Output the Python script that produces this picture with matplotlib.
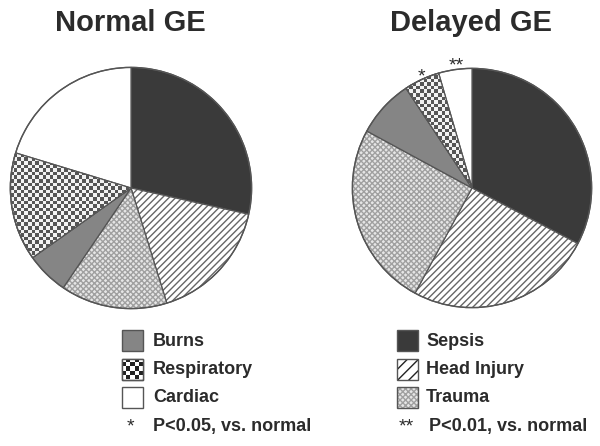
import matplotlib
matplotlib.use("Agg")
import matplotlib.pyplot as plt
import matplotlib.patches as mpatches
import numpy as np

plt.rcParams["font.family"] = ["Liberation Sans", "DejaVu Sans"]
plt.rcParams["hatch.linewidth"] = 1.0

# data: percent of patients per diagnosis, clockwise from 12 o'clock
categories = ["Sepsis", "Head Injury", "Trauma", "Burns", "Respiratory", "Cardiac"]
normal_ge = [28.5, 16.7, 14.3, 5.7, 14.5, 20.3]
delayed_ge = [32.7, 25.2, 25.0, 7.8, 4.8, 4.5]
titles = ["Normal GE", "Delayed GE"]
delayed_marks = {"Respiratory": "*", "Cardiac": "**"}

legend_left = ["Burns", "Respiratory", "Cardiac"]
legend_right = ["Sepsis", "Head Injury", "Trauma"]
note_left = ("*", "P<0.05, vs. normal")
note_right = ("**", "P<0.01, vs. normal")

TXT = "#2b2b2b"
EDGE = "#555555"

style = {
    "Sepsis": dict(facecolor="#3a3a3a", hatch=None, hcolor=None),
    "Head Injury": dict(facecolor="white", hatch="/////", hcolor="#666666"),
    "Trauma": dict(facecolor="#e6e6e6", hatch="xxxxxx", hcolor="#a0a0a0"),
    "Burns": dict(facecolor="#858585", hatch=None, hcolor=None),
    "Respiratory": dict(facecolor="white", hatch=None, hcolor=None),
    "Cardiac": dict(facecolor="white", hatch=None, hcolor=None),
}


def checker(ax, clip, extent, cell, dark="#555555", light="#f2f2f2"):
    x0, x1, y0, y1 = extent
    nx = max(2, int(round(abs(x1 - x0) / cell)))
    ny = max(2, int(round(abs(y1 - y0) / cell)))
    grid = (np.add.outer(np.arange(ny), np.arange(nx)) % 2).astype(float)
    cmap = matplotlib.colors.ListedColormap([light, dark])
    im = ax.imshow(grid, cmap=cmap, extent=extent, interpolation="nearest",
                   origin="lower", zorder=2, aspect="auto")
    im.set_clip_path(clip)
    return im


def draw_pie(rect, values, marks=None):
    ax = fig.add_axes(rect)
    wedges, _ = ax.pie(values, startangle=90, counterclock=False,
                       wedgeprops=dict(edgecolor=EDGE, linewidth=0.9))
    for w, cat in zip(wedges, categories):
        s = style[cat]
        w.set_facecolor(s["facecolor"])
        if s["hatch"]:
            w.set_hatch(s["hatch"])
            w._hatch_color = matplotlib.colors.to_rgba(s["hcolor"])
        if cat == "Respiratory":
            checker(ax, w, (-1.0, 1.0, -1.0, 1.0), 0.03)
            # redraw edge above the texture
            ax.add_patch(mpatches.Wedge(w.center, w.r, w.theta1, w.theta2,
                                        facecolor="none", edgecolor=EDGE,
                                        linewidth=0.9, zorder=3))
    ax.add_patch(mpatches.Circle((0, 0), 1, facecolor="none",
                                 edgecolor=EDGE, linewidth=1.0, zorder=4))
    if marks:
        for w, cat in zip(wedges, categories):
            if cat in marks:
                mid = np.deg2rad((w.theta1 + w.theta2) / 2)
                ax.text(1.06 * np.cos(mid) + 0.02, 1.07 * np.sin(mid) - 0.04, marks[cat],
                        ha="center", va="center", fontsize=14, color=TXT)
    ax.set_xlim(-1.02, 1.02)
    ax.set_ylim(-1.02, 1.02)
    ax.axis("off")
    return ax


fig = plt.figure(figsize=(6.0, 4.46), dpi=100)

W, H = 600.0, 446.0
r1, c1 = 123.0, (131.0, 188.0)
r2, c2 = 122.0, (472.0, 188.0)
draw_pie([(c1[0] - r1) / W, (H - c1[1] - r1) / H, 2 * r1 / W, 2 * r1 / H], normal_ge)
draw_pie([(c2[0] - r2) / W, (H - c2[1] - r2) / H, 2 * r2 / W, 2 * r2 / H],
         delayed_ge, delayed_marks)

fig.text(130 / W, 1 - 23 / H, titles[0], ha="center", va="center",
         fontsize=21, fontweight="bold", color=TXT)
fig.text(471 / W, 1 - 23 / H, titles[1], ha="center", va="center",
         fontsize=21, fontweight="bold", color=TXT)

# legend drawn in a pixel-coordinate overlay
lax = fig.add_axes([0, 0, 1, 1])
lax.set_xlim(0, W)
lax.set_ylim(H, 0)
lax.axis("off")

rows_y = [340, 369, 397, 426]
sq = 21


def swatch(x, y, cat):
    s = style[cat]
    r = mpatches.Rectangle((x, y - sq / 2), sq, sq, facecolor=s["facecolor"],
                           edgecolor=EDGE, linewidth=1.0, zorder=2)
    if cat == "Head Injury":
        r.set_hatch("///")
        r._hatch_color = matplotlib.colors.to_rgba("#222222")
    elif s["hatch"]:
        r.set_hatch(s["hatch"])
        r._hatch_color = matplotlib.colors.to_rgba(s["hcolor"])
    lax.add_patch(r)
    if cat == "Respiratory":
        checker(lax, r, (x, x + sq, y + sq / 2, y - sq / 2), sq / 5,
                dark="#222222", light="white")
        lax.add_patch(mpatches.Rectangle((x, y - sq / 2), sq, sq, facecolor="none",
                                         edgecolor=EDGE, linewidth=1.0, zorder=3))


for y, cat in zip(rows_y, legend_left):
    swatch(122, y, cat)
    lax.text(153, y + 1, cat, ha="left", va="center", fontsize=13,
             fontweight="bold", color=TXT)
for y, cat in zip(rows_y, legend_right):
    swatch(397, y, cat)
    lax.text(426, y + 1, cat, ha="left", va="center", fontsize=13,
             fontweight="bold", color=TXT)

lax.text(130, rows_y[3] + 1, note_left[0], ha="center", va="center",
         fontsize=14, color=TXT)
lax.text(153, rows_y[3] + 1, note_left[1], ha="left", va="center",
         fontsize=13, fontweight="bold", color=TXT)
lax.text(406, rows_y[3] + 1, note_right[0], ha="center", va="center",
         fontsize=14, color=TXT)
lax.text(429, rows_y[3] + 1, note_right[1], ha="left", va="center",
         fontsize=13, fontweight="bold", color=TXT)

fig.savefig("out.png", dpi=100)
